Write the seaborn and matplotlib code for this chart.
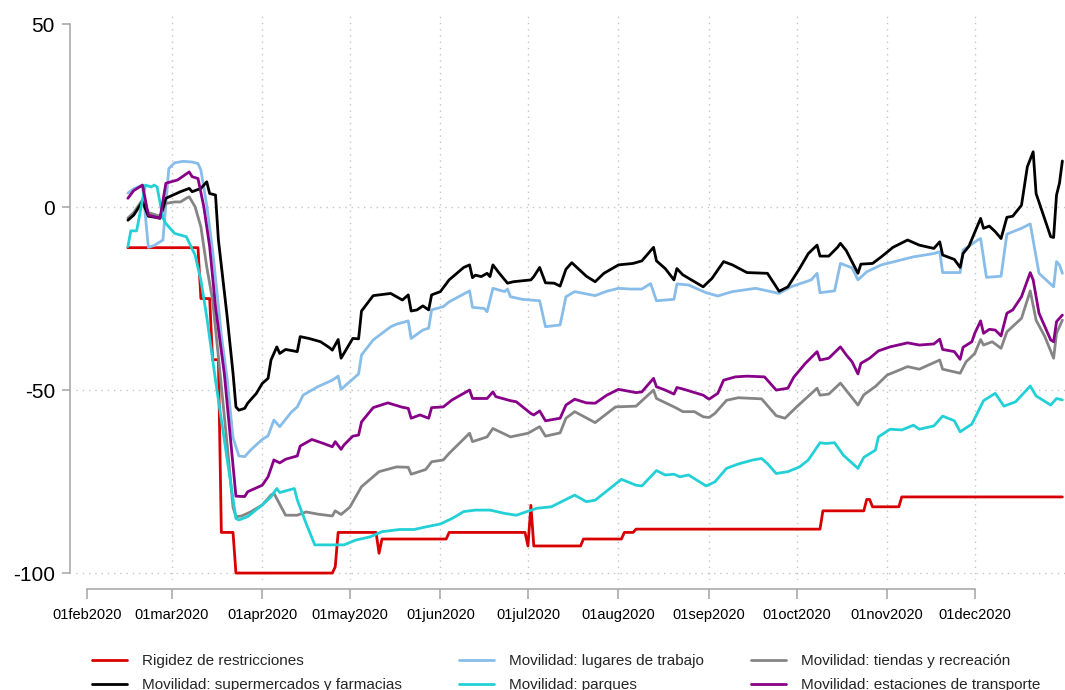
import numpy as np
import pandas as pd
import seaborn as sns
import matplotlib.pyplot as plt
import matplotlib.dates as mdates
from matplotlib.lines import Line2D

sns.set_theme(style="white")
plt.rcParams['font.family'] = ['Liberation Sans', 'DejaVu Sans']

inicio = pd.Timestamp("2020-02-01")

# dias desde 01feb2020 y valores
dias_rigidez = [14, 38, 39, 42, 43, 45, 46, 50, 51, 84, 85, 86, 99, 100, 101, 123, 124, 150, 151, 152, 153,
                169, 170, 183, 184, 187, 188, 251, 252, 266, 267, 268, 269, 278, 279, 334]
rigidez = [-11.1, -11.1, -25.0, -25.0, -41.7, -41.7, -88.9, -88.9, -100, -100, -98.3, -88.9, -88.9, -94.6,
           -90.7, -90.7, -88.9, -88.9, -92.6, -81.5, -92.6, -92.6, -90.7, -90.7, -88.9, -88.9, -88.0, -88.0,
           -83.0, -83.0, -79.9, -79.9, -81.9, -81.9, -79.2, -79.2]

dias_trabajo = [14, 16, 19, 21, 23, 26, 28, 30, 33, 36, 38, 39, 41, 43, 45, 46, 48, 50, 52, 54, 56, 60, 62, 64,
                66, 70, 72, 74, 77, 79, 84, 86, 87, 93, 94, 98, 104, 106, 110, 111, 115, 117, 118, 122, 124,
                131, 132, 136, 137, 139, 143, 144, 145, 149, 155, 157, 162, 164, 167, 174, 178, 182, 186, 190,
                193, 195, 201, 202, 206, 212, 216, 221, 229, 237, 241, 248, 250, 251, 256, 258, 262, 264, 267,
                272, 283, 290, 292, 293, 299, 300, 302, 305, 306, 308, 313, 315, 320, 323, 326, 331, 332, 333, 334]
trabajo = [3.8, 5.0, 6.0, -11.0, -10.5, -9.0, 10.5, 12.1, 12.5, 12.3, 11.9, 10.1, 0.5, -11.7, -27.0, -35.0,
           -47.0, -63.0, -68.0, -68.2, -66.4, -63.5, -62.5, -58.2, -60.0, -56.0, -54.6, -51.4, -50.0, -49.1,
           -47.3, -46.2, -49.8, -45.6, -40.4, -36.3, -32.7, -32.0, -31.1, -35.9, -33.6, -33.1, -28.1, -27.2,
           -25.9, -22.9, -27.4, -27.7, -28.6, -22.2, -23.1, -22.4, -24.5, -25.2, -25.6, -32.7, -32.2, -24.5,
           -23.1, -24.2, -23.0, -22.2, -22.4, -22.4, -20.9, -25.6, -25.2, -21.0, -21.3, -23.4, -24.3, -23.1,
           -22.2, -23.6, -21.8, -19.9, -18.1, -23.4, -22.9, -15.4, -16.6, -19.9, -17.7, -15.8, -13.6, -12.7,
           -12.2, -17.9, -17.9, -11.7, -10.7, -9.0, -8.6, -19.2, -18.9, -7.4, -5.8, -4.6, -18.1, -21.8, -14.9,
           -15.8, -18.1]

dias_tiendas = [14, 16, 19, 21, 25, 27, 30, 32, 34, 35, 37, 39, 41, 43, 45, 48, 50, 51, 53, 56, 60, 63, 64, 68,
                72, 75, 79, 84, 85, 87, 90, 94, 100, 106, 110, 111, 116, 118, 122, 124, 131, 132, 137, 139, 145,
                151, 155, 157, 162, 164, 167, 174, 181, 188, 194, 195, 201, 202, 204, 208, 211, 213, 215, 219,
                223, 231, 236, 239, 243, 250, 251, 254, 258, 264, 266, 270, 274, 281, 285, 292, 293, 299, 301,
                304, 306, 307, 310, 313, 315, 320, 323, 325, 328, 331, 332, 334]
tiendas = [-3.0, -1.5, 2.0, -1.5, -2.5, 1.0, 1.4, 1.4, 2.4, 2.8, 0.1, -5.4, -16.3, -25.4, -40.9, -65.0, -82.0,
           -84.6, -84.4, -83.3, -81.4, -78.7, -78.2, -84.2, -84.2, -83.3, -83.9, -84.4, -83.0, -84.0, -82.0,
           -76.4, -72.3, -71.0, -71.1, -73.0, -71.7, -69.6, -69.1, -67.3, -61.8, -64.1, -62.8, -60.5, -62.8,
           -61.8, -60.0, -62.6, -61.7, -57.7, -55.9, -58.9, -54.6, -54.4, -50.0, -52.3, -54.6, -55.0, -55.9,
           -55.9, -57.3, -57.5, -56.4, -52.8, -52.1, -52.4, -57.0, -57.7, -54.6, -49.5, -51.4, -51.1, -48.1,
           -54.1, -51.3, -49.0, -45.9, -43.6, -44.3, -41.8, -44.3, -45.4, -42.3, -40.0, -36.2, -37.7, -36.8,
           -38.6, -34.1, -30.4, -22.9, -30.9, -35.4, -41.3, -34.5, -30.9]

dias_super = [14, 16, 19, 21, 25, 27, 32, 35, 36, 39, 41, 42, 44, 45, 48, 50, 51, 52, 54, 55, 58, 60, 62, 63,
              65, 66, 68, 72, 73, 76, 80, 83, 84, 86, 87, 89, 91, 93, 94, 98, 104, 108, 110, 111, 113, 115, 117,
              118, 121, 124, 129, 131, 132, 133, 135, 137, 138, 139, 141, 144, 146, 152, 153, 155, 157, 160, 162,
              164, 166, 171, 174, 177, 182, 187, 190, 194, 195, 198, 201, 202, 204, 211, 214, 218, 221, 226, 233,
              237, 240, 244, 247, 250, 251, 254, 257, 258, 260, 264, 265, 269, 272, 276, 281, 285, 290, 292, 293,
              297, 299, 300, 302, 306, 307, 309, 311, 313, 315, 317, 320, 322, 324, 325, 330, 331, 332, 333, 334]
supermercados = [-3.6, -2.2, 1.5, -2.5, -3.0, 2.4, 4.2, 5.1, 4.2, 5.1, 6.9, 3.7, 3.3, -9.0, -30.0, -45.4, -54.6,
                 -55.5, -55.0, -53.6, -50.9, -48.2, -46.8, -41.8, -38.2, -40.0, -38.9, -39.5, -35.4, -35.9, -36.8,
                 -38.4, -39.1, -36.2, -41.3, -38.6, -35.9, -36.0, -28.4, -24.2, -23.6, -25.4, -24.0, -28.4, -28.1,
                 -27.0, -28.1, -24.0, -23.1, -19.9, -16.5, -15.8, -19.3, -18.6, -19.0, -18.1, -19.0, -15.8, -17.9,
                 -20.8, -20.4, -19.9, -19.0, -16.5, -20.7, -20.8, -21.6, -17.0, -15.2, -18.9, -20.4, -18.1, -15.8,
                 -15.4, -14.7, -11.0, -14.7, -16.8, -19.9, -16.8, -18.5, -21.8, -19.5, -14.9, -15.8, -17.9, -18.1,
                 -23.0, -21.8, -16.8, -12.7, -10.4, -13.4, -13.4, -11.0, -9.9, -11.9, -18.1, -15.6, -15.4, -13.6,
                 -11.0, -9.0, -10.4, -11.3, -9.5, -13.1, -14.3, -16.5, -12.7, -10.7, -3.1, -5.8, -5.2, -6.7, -8.6,
                 -2.8, -2.5, 0.5, 11.0, 15.1, 3.7, -8.1, -8.3, 3.3, 6.5, 12.6]

dias_parques = [14, 15, 17, 19, 20, 22, 23, 24, 26, 27, 30, 34, 37, 39, 41, 44, 51, 52, 55, 60, 63, 65, 66, 71,
                72, 75, 78, 83, 88, 92, 97, 101, 107, 112, 116, 121, 125, 129, 133, 138, 143, 147, 154, 159, 167,
                171, 174, 183, 188, 190, 195, 198, 201, 203, 206, 212, 215, 219, 223, 228, 231, 233, 236, 240, 244,
                247, 251, 253, 256, 259, 264, 266, 270, 271, 275, 279, 283, 285, 290, 293, 297, 299, 303, 307, 311,
                314, 318, 323, 325, 330, 332, 334]
parques = [-10.8, -6.5, -6.5, 2.0, 6.0, 5.5, 6.0, 5.5, -3.0, -4.5, -7.2, -8.1, -13.1, -20.0, -30.0, -47.3, -85.1,
           -85.5, -84.6, -81.4, -79.2, -76.9, -78.0, -76.9, -80.0, -86.4, -92.3, -92.3, -92.3, -91.0, -90.1, -88.7,
           -88.1, -88.1, -87.4, -86.6, -85.1, -83.2, -82.8, -82.8, -83.7, -84.2, -82.3, -81.9, -78.7, -80.5, -80.1,
           -74.4, -76.0, -76.2, -72.0, -73.2, -73.0, -73.7, -73.2, -76.2, -75.1, -71.4, -70.2, -69.1, -68.7, -70.1,
           -72.8, -72.3, -71.0, -69.1, -64.4, -64.6, -64.4, -67.8, -71.4, -68.4, -66.4, -62.8, -60.7, -60.9, -59.6,
           -60.7, -59.8, -57.1, -58.4, -61.4, -59.3, -52.9, -50.9, -54.4, -53.2, -48.9, -51.6, -54.1, -52.3, -52.7]

dias_transporte = [14, 16, 19, 21, 25, 27, 31, 35, 36, 38, 40, 42, 44, 47, 51, 54, 55, 60, 62, 64, 66, 68, 72,
                   73, 77, 81, 84, 85, 87, 88, 91, 93, 94, 98, 103, 108, 110, 111, 114, 117, 118, 122, 125, 131,
                   132, 137, 139, 140, 145, 147, 152, 153, 155, 157, 162, 164, 167, 171, 174, 178, 182, 188, 190,
                   194, 195, 198, 201, 202, 204, 211, 213, 216, 218, 222, 226, 232, 236, 240, 242, 246, 250, 251,
                   254, 258, 260, 262, 264, 265, 268, 271, 275, 281, 285, 290, 292, 293, 297, 299, 300, 303, 304,
                   306, 307, 309, 311, 313, 315, 317, 320, 323, 324, 326, 330, 331, 332, 334]
transporte = [2.4, 4.5, 6.0, -2.2, -3.1, 6.5, 7.4, 9.6, 8.3, 7.8, 0.1, -10.8, -27.2, -45.4, -79.0, -79.1, -77.8,
              -76.0, -73.7, -69.1, -69.9, -68.9, -68.0, -65.3, -63.5, -64.6, -65.5, -64.1, -66.2, -65.0, -62.6,
              -62.3, -58.7, -54.8, -53.5, -54.7, -55.0, -57.7, -56.8, -57.7, -54.8, -54.6, -52.7, -50.0, -52.3,
              -52.3, -50.5, -51.8, -52.9, -53.2, -56.4, -56.8, -55.7, -58.4, -57.7, -54.1, -52.5, -53.5, -53.6,
              -51.4, -49.8, -50.7, -50.5, -46.8, -49.1, -50.0, -51.1, -49.3, -49.7, -51.4, -52.5, -50.9, -47.3,
              -46.4, -46.2, -46.4, -50.0, -49.5, -46.5, -42.7, -39.5, -41.8, -41.3, -38.2, -40.4, -42.3, -45.6,
              -42.7, -41.3, -39.3, -38.2, -37.1, -37.7, -37.4, -36.1, -38.9, -39.5, -41.6, -38.3, -36.8, -34.5,
              -31.1, -34.5, -33.4, -33.6, -35.2, -29.0, -28.1, -24.5, -17.9, -19.9, -29.0, -36.3, -36.8, -31.3,
              -29.5]

nombres = ["Rigidez de restricciones", "Movilidad: lugares de trabajo", "Movilidad: tiendas y recreación",
           "Movilidad: supermercados y farmacias", "Movilidad: parques", "Movilidad: estaciones de transporte"]
colores = ["#d80000", "#87bde8", "#858585", "#000000", "#22d0d6", "#870087"]
etiquetas_x = ["01feb2020", "01mar2020", "01apr2020", "01may2020", "01jun2020", "01jul2020",
               "01aug2020", "01sep2020", "01oct2020", "01nov2020", "01dec2020"]

datos = [(dias_rigidez, rigidez), (dias_trabajo, trabajo), (dias_tiendas, tiendas),
         (dias_super, supermercados), (dias_parques, parques), (dias_transporte, transporte)]
frames = []
for nombre, (d, v) in zip(nombres, datos):
    frames.append(pd.DataFrame({"fecha": inicio + pd.to_timedelta(d, unit="D"), "valor": v, "serie": nombre}))
df = pd.concat(frames, ignore_index=True)

fig = plt.figure(figsize=(10.65, 6.9), dpi=100)
ax = fig.add_axes([76 / 1065, 1 - 580 / 690, (1065 - 76) / 1065, 568 / 690])

# rejilla punteada
meses = pd.date_range("2020-02-01", "2020-12-01", freq="MS")
for m in meses[1:]:
    ax.axvline(m, color="#c4c4c4", lw=1.0, ls=(0, (1, 3.5)), zorder=0)
for y in [0, -50, -100]:
    ax.axhline(y, color="#c4c4c4", lw=1.0, ls=(0, (1, 3.5)), zorder=0)

sns.lineplot(data=df, x="fecha", y="valor", hue="serie", hue_order=nombres,
             palette=dict(zip(nombres, colores)), estimator=None, sort=False,
             lw=2.0, ax=ax, legend=False)

x0 = mdates.date2num(inicio)
ax.set_xlim(x0 - 3.77, x0 + 334.9)
ax.set_ylim(-101.9, 53.3)

ax.set_xticks(meses)
ax.set_xticklabels(etiquetas_x)
ax.set_yticks([-100, -50, 0, 50])
ax.set_yticklabels(["-100", "-50", "0", "50"])
ax.set_xlabel("")
ax.set_ylabel("")

for s in ["top", "right"]:
    ax.spines[s].set_visible(False)
ax.spines["left"].set_position(("outward", 4.3))
ax.spines["left"].set_bounds(-100, 50)
ax.spines["bottom"].set_position(("outward", 6.5))
ax.spines["bottom"].set_bounds(x0, mdates.date2num(meses[-1]))
for s in ["left", "bottom"]:
    ax.spines[s].set_color("#a3a3a3")
    ax.spines[s].set_linewidth(1.1)

ax.tick_params(axis="y", left=True, length=5.8, width=1.1, color="#a3a3a3",
               labelsize=15, pad=5, labelcolor="black")
ax.tick_params(axis="x", bottom=True, length=7.2, width=1.1, color="#a3a3a3",
               labelsize=10.5, pad=6.3, labelcolor="black")

# leyenda en tres columnas
col_x = [92 / 1065, 459 / 1065, 751 / 1065]
for k in range(3):
    idx = [k, k + 3]
    handles = [Line2D([], [], color=colores[i], lw=2.0) for i in idx]
    fig.legend(handles, [nombres[i] for i in idx], loc="upper left",
               bbox_to_anchor=(col_x[k], 1 - 654 / 690), frameon=False, fontsize=11,
               handlelength=2.3, handletextpad=1.0, labelspacing=0.65,
               borderpad=0, borderaxespad=0)

fig.savefig("out.png", dpi=100)
